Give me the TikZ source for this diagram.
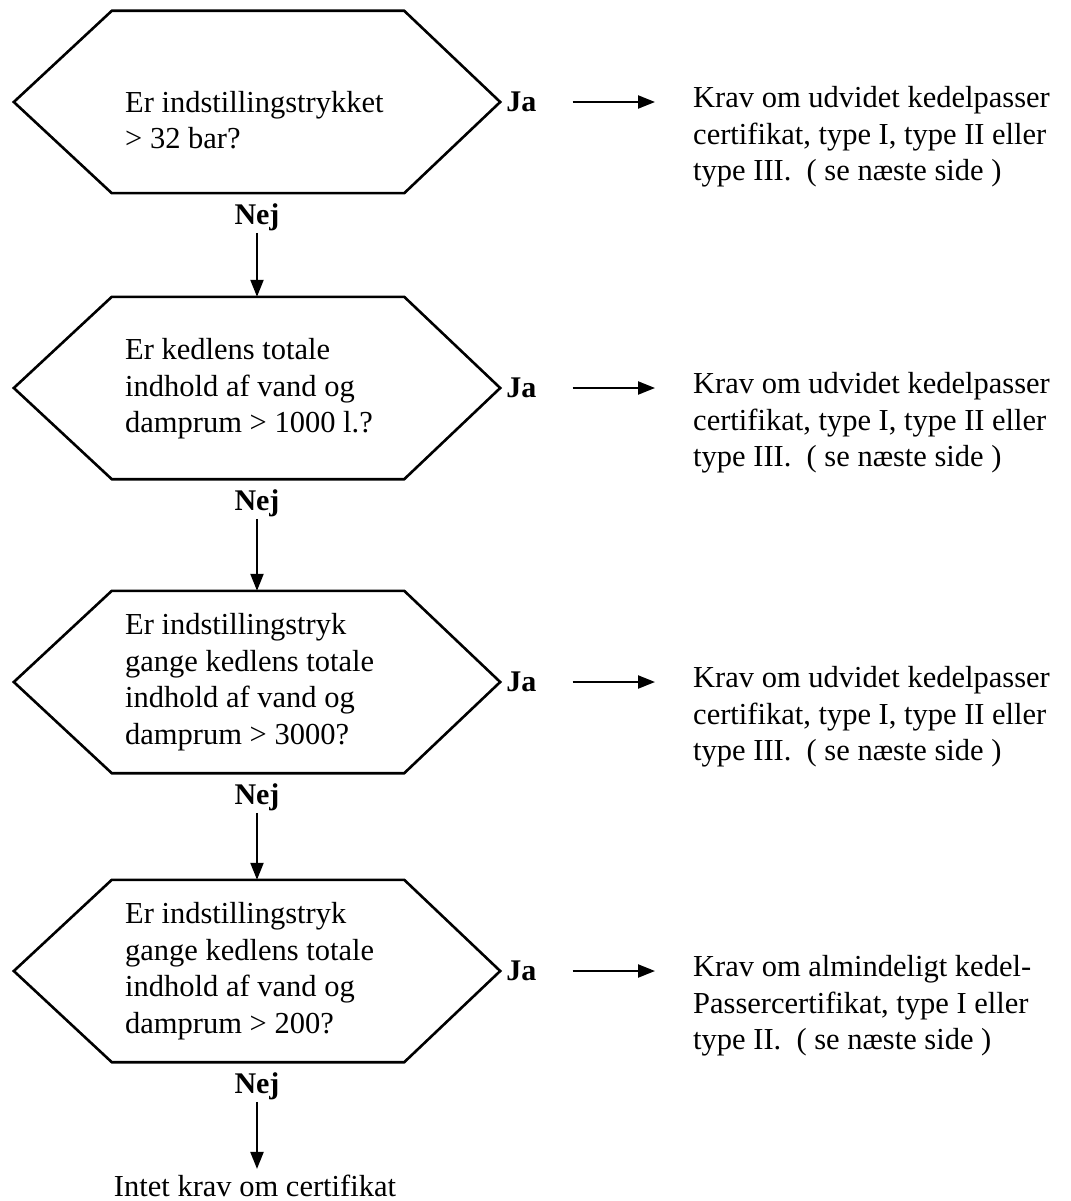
\documentclass[tikz,border=0pt]{standalone}
\usepackage{fontspec}
\setmainfont{Liberation Serif}
\usepackage{tikz}
\usetikzlibrary{arrows.meta, positioning}
\tikzset{
  hexbox/.style={rectangle,draw=none,minimum width=486pt,minimum height=182pt,inner sep=0pt},
  hexline/.style={line width=2.6pt,black,line join=miter},
  qtext/.style={anchor=west,align=left,inner sep=0pt,font=\fontsize{30.5}{36.5}\selectfont},
  anstext/.style={qtext},
  jalabel/.style={inner sep=0pt,font=\fontsize{30}{36}\selectfont\bfseries},
  nejlabel/.style={jalabel},
  jaarrow/.style={-{Triangle[length=17pt,width=13pt]},line width=2.2pt,shorten <=36pt,shorten >=38pt},
  nejarrow/.style={-{Triangle[length=17pt,width=13pt]},line width=2.2pt,shorten <=2pt},
}

\begin{document}
\begin{tikzpicture}[x=1pt,y=-1pt]
  \useasboundingbox (0,0) rectangle (1070,1201);
  \node[hexbox] (nQ1) at (257,102) {};
  \node[hexbox] (nQ2) at (257,388) {};
  \node[hexbox] (nQ3) at (257,682) {};
  \node[hexbox] (nQ4) at (257,971) {};
  \foreach \q in {nQ1,nQ2,nQ3,nQ4}
    \draw[hexline] (\q.west) -- ([xshift=98pt]\q.north west) -- ([xshift=-96pt]\q.north east)
      -- (\q.east) -- ([xshift=-96pt]\q.south east) -- ([xshift=98pt]\q.south west) -- cycle;
  % questions
  \node[qtext] (nT1) at (125,120) {Er indstillingstrykket\\> 32 bar?};
  \node[qtext] (nT2) at (125,389) {Er kedlens totale\\indhold af vand og\\damprum > 1000 l.?};
  \node[qtext] (nT3) at (125,682) {Er indstillingstryk\\gange kedlens totale\\indhold af vand og\\damprum > 3000?};
  \node[qtext] (nT4) at (125,971) {Er indstillingstryk\\gange kedlens totale\\indhold af vand og\\damprum > 200?};
  % Ja / Nej labels
  \node[jalabel,right=6pt of nQ1.east] (nJa1) {Ja};
  \node[jalabel,right=6pt of nQ2.east] (nJa2) {Ja};
  \node[jalabel,right=6pt of nQ3.east] (nJa3) {Ja};
  \node[jalabel,right=6pt of nQ4.east] (nJa4) {Ja};
  \node[nejlabel,below=10pt of nQ1.south] (nNej1) {Nej};
  \node[nejlabel,below=10pt of nQ2.south] (nNej2) {Nej};
  \node[nejlabel,below=10pt of nQ3.south] (nNej3) {Nej};
  \node[nejlabel,below=10pt of nQ4.south] (nNej4) {Nej};
  % answers
  \node[anstext] (nA1) at (693,137) {Krav om udvidet kedelpasser\\certifikat, type I, type II eller\\type III.~~( se næste side )};
  \node[anstext] (nA2) at (693,423) {Krav om udvidet kedelpasser\\certifikat, type I, type II eller\\type III.~~( se næste side )};
  \node[anstext] (nA3) at (693,717) {Krav om udvidet kedelpasser\\certifikat, type I, type II eller\\type III.~~( se næste side )};
  \node[anstext] (nA4) at (693,1006) {Krav om almindeligt kedel-\\Passercertifikat, type I eller\\type II.~~( se næste side )};
  \node[qtext,anchor=center] (nEnd) at (255,1186) {Intet krav om certifikat};
  \draw[jaarrow] (nJa1.east) -- (nJa1.east -| nA1.west);
  \draw[jaarrow] (nJa2.east) -- (nJa2.east -| nA2.west);
  \draw[jaarrow] (nJa3.east) -- (nJa3.east -| nA3.west);
  \draw[jaarrow] (nJa4.east) -- (nJa4.east -| nA4.west);
  \draw[nejarrow] (nNej1.south) -- (nQ2.north);
  \draw[nejarrow] (nNej2.south) -- (nQ3.north);
  \draw[nejarrow] (nNej3.south) -- (nQ4.north);
  \draw[nejarrow,shorten >=6pt] (nNej4.south) -- (nNej4.south |- nEnd.north);
\end{tikzpicture}
\end{document}
